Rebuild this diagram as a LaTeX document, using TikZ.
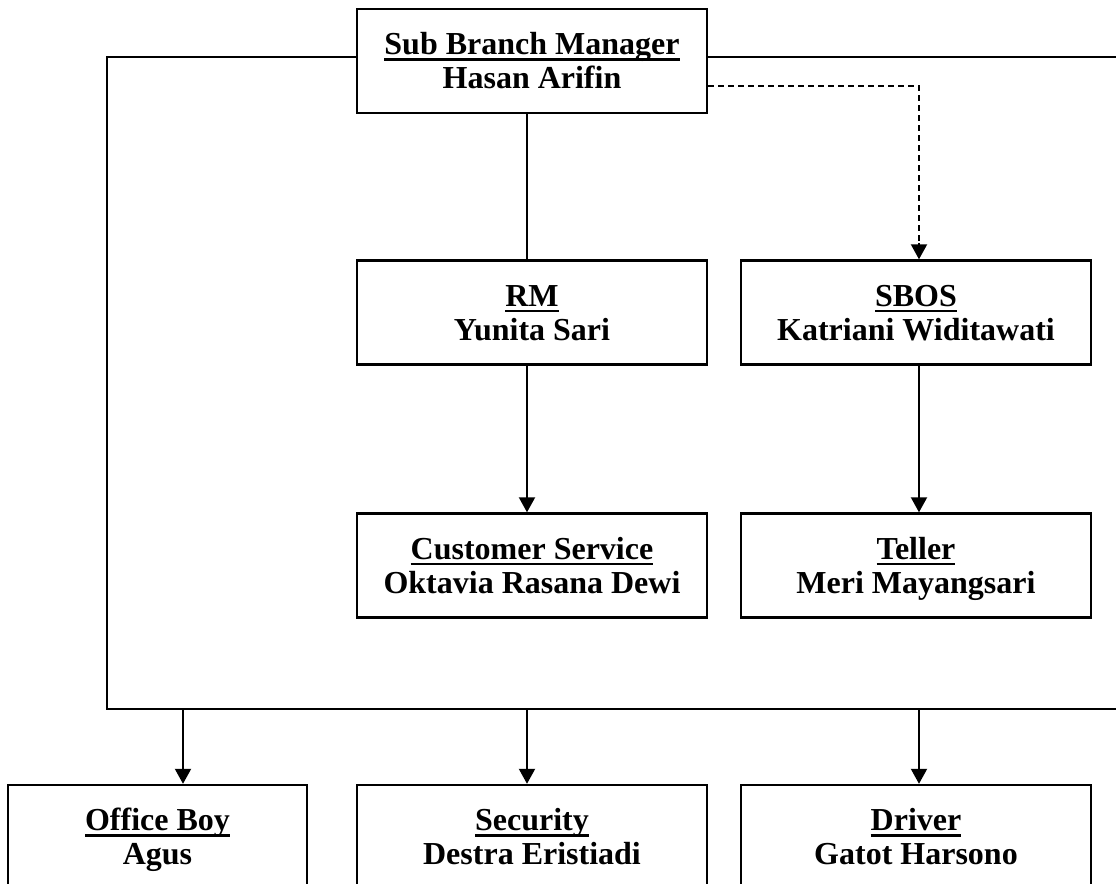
\documentclass[tikz,border=0pt]{standalone}
\usepackage{fontspec}
\setmainfont{Liberation Serif}
\usetikzlibrary{arrows.meta}
\newcommand\hd[1]{\setbox0\hbox{#1}\makebox[0pt][l]{\rule[-3.2pt]{\wd0}{1.4pt}}\usebox0}
\newcommand\twol[2]{\rule{0pt}{14.5pt}\hd{#1}\\#2\rule[-4pt]{0pt}{4pt}}
\tikzset{
  box/.style={draw, line width=1.2pt, minimum width=175pt, minimum height=52pt, inner sep=0pt,
    align=center, font=\fontsize{16}{17}\selectfont\bfseries},
  conn/.style={line width=1pt},
  arr/.style={line width=1pt, -{Triangle[width=8pt,length=7.5pt]}},
  dashline/.style={line width=1pt, dash pattern=on 3pt off 2pt}
}
\begin{document}
\begin{tikzpicture}[x=0.5pt,y=-0.5pt]
\useasboundingbox (0,0) rectangle (1116,884);
\clip (0,0) rectangle (1116,884);
\node[box] (sbm) at (532,61) {\twol{Sub Branch Manager}{Hasan Arifin}};
\node[box] (rm) at (532,312.5) {\twol{RM}{Yunita Sari}};
\node[box] (sbos) at (916,312.5) {\twol{SBOS}{Katriani Widitawati}};
\node[box] (cs) at (532,565.5) {\twol{Customer Service}{Oktavia Rasana Dewi}};
\node[box] (tel) at (916,565.5) {\twol{Teller}{Meri Mayangsari}};
\node[box, minimum width=149.5pt] (ob) at (157.5,837) {\twol{Office Boy}{Agus}};
\node[box] (sec) at (532,837) {\twol{Security}{Destra Eristiadi}};
\node[box] (drv) at (916,837) {\twol{Driver}{Gatot Harsono}};
\coordinate (tl) at (107,57);
\coordinate (bl) at (107,709);
\coordinate (br) at (1130,709);
\coordinate (tr) at (1130,57);
\coordinate (dc) at (919,86);
\coordinate (a1) at (183,709);
\coordinate (a2) at (527,709);
\coordinate (a3) at (919,709);
\coordinate (v1) at (527,0);
\draw[conn] (sbm.west |- tl) -- (tl) -- (bl) -- (br);
\draw[conn] (sbm.east |- tl) -- (tr);
\draw[dashline] (sbm.east |- dc) -- (dc) -- ([yshift=6pt]dc |- sbos.north);
\draw[arr] ([yshift=8pt]dc |- sbos.north) -- (dc |- sbos.north);
\draw[conn] (v1 |- sbm.south) -- (v1 |- rm.north);
\draw[arr] (v1 |- rm.south) -- (v1 |- cs.north);
\draw[arr] (dc |- sbos.south) -- (dc |- tel.north);
\draw[arr] (a1) -- (a1 |- ob.north);
\draw[arr] (a2) -- (a2 |- sec.north);
\draw[arr] (a3) -- (a3 |- drv.north);
\end{tikzpicture}
\end{document}
